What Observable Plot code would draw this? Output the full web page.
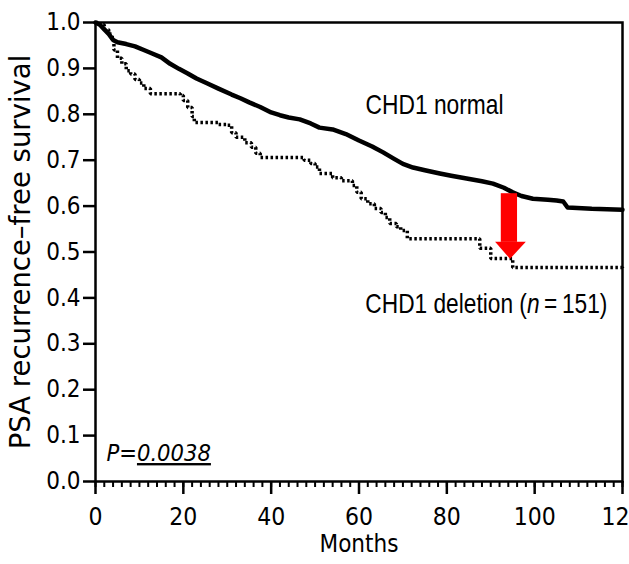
<!DOCTYPE html>
<html>
<head>
<meta charset="utf-8">
<script src="https://cdn.jsdelivr.net/npm/d3@7"></script>
<script src="https://cdn.jsdelivr.net/npm/@observablehq/plot@0.6"></script>
<style>
  html, body { margin: 0; padding: 0; background: #fff; }
  #chart svg { display: block; }
</style>
</head>
<body>
<div id="chart"></div>
<script>
// ---- data ----
const normalMonths = [0, 1, 2, 3, 4, 5, 7, 9, 11, 12.5, 15, 17, 19, 21, 23, 25.5, 28, 31, 33, 35, 37.5, 40, 42, 44, 46.5, 49, 51, 54, 57, 60, 63, 65.5, 68, 70, 72.3, 75, 78.4, 81, 84.5, 88, 90.5, 93, 95, 97, 99.6, 103, 105, 106.5, 107.5, 113, 120];
const normalSurv   = [1.0, 0.995, 0.985, 0.975, 0.962, 0.957, 0.953, 0.948, 0.94, 0.934, 0.924, 0.91, 0.899, 0.889, 0.878, 0.867, 0.856, 0.843, 0.835, 0.826, 0.816, 0.804, 0.798, 0.793, 0.789, 0.78, 0.771, 0.767, 0.757, 0.743, 0.73, 0.717, 0.703, 0.692, 0.684, 0.678, 0.671, 0.666, 0.66, 0.654, 0.649, 0.64, 0.63, 0.622, 0.616, 0.614, 0.612, 0.61, 0.597, 0.594, 0.592];

const deletionMonths = [0, 1, 2, 3, 3.8, 4.2, 5, 6, 7, 8, 9, 10, 11, 12.5, 19.3, 20, 21, 22, 22.5, 28, 30, 31, 32, 34, 35.5, 36.5, 37.5, 46, 47.5, 49, 50, 51, 54, 56, 58.5, 59.5, 60.5, 62, 63.5, 65, 66, 67, 68.5, 69.5, 71, 87, 87.5, 90, 93.6, 95, 120];
const deletionSurv   = [1.0, 0.995, 0.985, 0.975, 0.962, 0.94, 0.922, 0.91, 0.895, 0.888, 0.876, 0.868, 0.856, 0.845, 0.841, 0.83, 0.815, 0.795, 0.782, 0.778, 0.776, 0.76, 0.75, 0.738, 0.728, 0.715, 0.706, 0.706, 0.7, 0.693, 0.685, 0.671, 0.662, 0.655, 0.645, 0.63, 0.616, 0.605, 0.595, 0.586, 0.575, 0.562, 0.555, 0.547, 0.529, 0.529, 0.508, 0.486, 0.486, 0.466, 0.464];

const xTicks = [0, 20, 40, 60, 80, 100, 120];
const xMinorTicks = d3.range(0, 121, 2);
const yTicks = [0, 0.1, 0.2, 0.3, 0.4, 0.5, 0.6, 0.7, 0.8, 0.9, 1.0];

const xLabel = "Months";
const yLabel = "PSA recurrence\u2013free survival";
const labelNormal = "CHD1 normal";
const labelDeletion = "CHD1 deletion (n = 151)";
const pText = "P=0.0038";

// annotation anchors (data units)
const annNormal = {x: 77.2, y: 0.82};
const annDeletion = {x: 89, y: 0.386};
const annP = {x: 2.5, y: 0.061};
// red arrow (data units)
const arrowShaft = {x1: 92.4, x2: 96.1, y1: 0.521, y2: 0.627};
const arrowHead = [{x: 91.1, y: 0.521}, {x: 94.5, y: 0.484}, {x: 98.1, y: 0.521}];

const normal = normalMonths.map((m, i) => ({m, s: normalSurv[i]}));
const deletion = deletionMonths.map((m, i) => ({m, s: deletionSurv[i]}));

const tickFont = "DejaVu Sans Condensed, DejaVu Sans, sans-serif";
const annFont = "Liberation Sans, Arial, sans-serif";

const plot = Plot.plot({
  width: 629,
  height: 564,
  marginLeft: 95,
  marginRight: 7,
  marginTop: 22,
  marginBottom: 83,
  style: {background: "#fff", color: "#000"},
  x: {domain: [0, 120]},
  y: {domain: [0, 1]},
  marks: [
    Plot.frame({stroke: "#000", strokeWidth: 2.5}),
    Plot.axisY({ticks: yTicks, tickFormat: d => d.toFixed(1), tickSize: 12, tickPadding: 3, strokeWidth: 2.5,
      fontSize: 24, fontFamily: tickFont, label: null}),
    Plot.axisX({ticks: xMinorTicks, tickFormat: () => "", tickSize: 6, strokeWidth: 2, label: null}),
    Plot.axisX({ticks: xTicks, tickSize: 13, tickPadding: 13, strokeWidth: 2.5,
      fontSize: 24.5, fontFamily: tickFont, label: null}),
    Plot.text([yLabel], {text: d => d, frameAnchor: "left", rotate: -90, dx: -74, textAnchor: "middle",
      fontSize: 27.5, fontFamily: "DejaVu Sans, sans-serif", lineAnchor: "middle"}),
    Plot.text([xLabel], {text: d => d, frameAnchor: "bottom", dy: 63, textAnchor: "middle",
      fontSize: 24, fontFamily: tickFont, lineAnchor: "middle"}),
    Plot.line(deletion, {x: "m", y: "s", curve: "step-after", stroke: "#000", strokeWidth: 3.5,
      strokeDasharray: "2.5,2.5", strokeLinecap: "butt", strokeLinejoin: "miter"}),
    Plot.line(normal, {x: "m", y: "s", stroke: "#000", strokeWidth: 4.5}),
    Plot.rect([arrowShaft], {x1: "x1", x2: "x2", y1: "y1", y2: "y2", fill: "#ff0000"}),
    Plot.areaY(arrowHead, {x: "x", y1: () => arrowHead[0].y, y2: "y", fill: "#ff0000"}),
    Plot.text([annNormal], {x: "x", y: "y", text: () => labelNormal, fontSize: 28, fontFamily: annFont, textAnchor: "middle"}),
    Plot.text([annDeletion], {x: "x", y: "y", text: () => labelDeletion, fontSize: 28, fontFamily: annFont, textAnchor: "middle"}),
    Plot.text([annP], {x: "x", y: "y", text: () => pText, fontSize: 23.5, fontFamily: tickFont, fontStyle: "italic", textAnchor: "start"})
  ]
});

// narrow the annotation text to the reference width, italic "n", underlined p-value
d3.select(plot).selectAll("text").each(function() {
  const t = this.textContent;
  if (t === labelNormal) {
    d3.select(this).attr("textLength", 138).attr("lengthAdjust", "spacingAndGlyphs");
  } else if (t === labelDeletion) {
    const el = d3.select(this); el.text(null);
    el.attr("textLength", 242).attr("lengthAdjust", "spacingAndGlyphs");
    el.append("tspan").text("CHD1 deletion (");
    el.append("tspan").attr("font-style", "italic").text("n");
    el.append("tspan").text("\u2009=\u2009151)");
  } else if (t === pText) {
    const el = d3.select(this); el.text(null);
    el.append("tspan").text("P=");
    el.append("tspan").style("text-decoration", "underline").text("0.0038");
  }
});

document.getElementById("chart").appendChild(plot);
</script>
</body>
</html>
